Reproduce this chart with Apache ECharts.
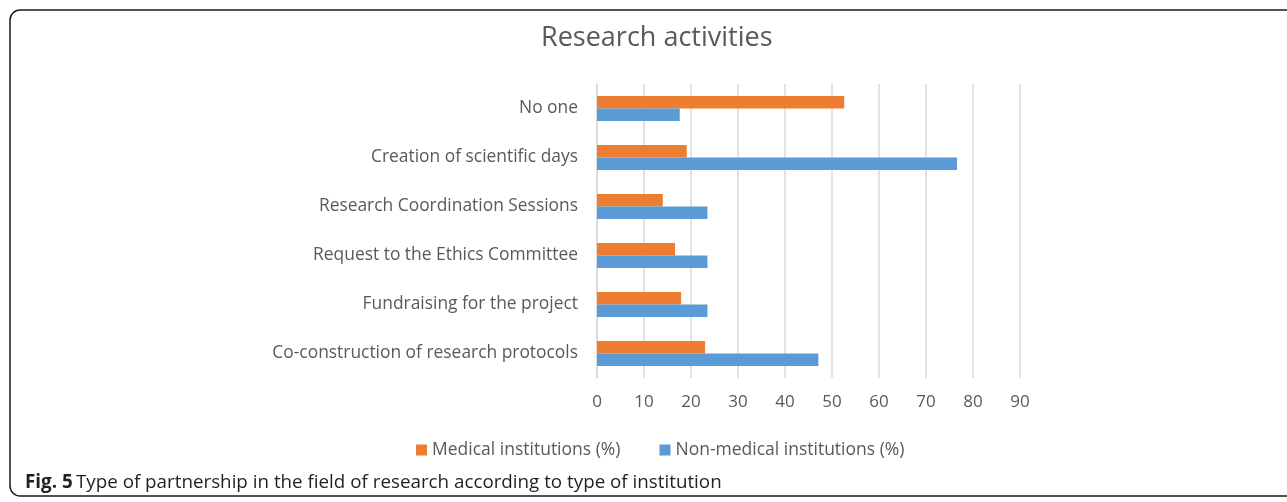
<!DOCTYPE html>
<html>
<head>
<meta charset="utf-8">
<script src="https://cdn.jsdelivr.net/npm/echarts@6/dist/echarts.min.js"></script>
<style>
html,body{margin:0;padding:0;background:#fff;}
#c{width:1287px;height:502px;}
</style>
</head>
<body>
<div id="c"></div>
<script>
var categories = [
  "No one",
  "Creation of scientific days",
  "Research Coordination Sessions",
  "Request to the Ethics Committee",
  "Fundraising for the project",
  "Co-construction of research protocols"
];
var medical = [52.6, 19.1, 14.0, 16.6, 17.9, 23.0];
var nonMedical = [17.6, 76.6, 23.5, 23.5, 23.5, 47.1];
var xTicks = [0, 10, 20, 30, 40, 50, 60, 70, 80, 90];

var chart = echarts.init(document.getElementById('c'), null, {renderer: 'canvas'});
var font = '"Open Sans", "Noto Sans", sans-serif';
chart.setOption({
  animation: false,
  backgroundColor: '#fff',
  title: {
    text: 'Research activities',
    left: 536,
    top: 20,
    textStyle: {fontFamily: font, fontSize: 27, fontWeight: 'normal', color: '#595959'}
  },
  legend: {
    left: 411,
    top: 436,
    icon: 'rect',
    itemWidth: 11,
    itemHeight: 11,
    itemGap: 39,
    textStyle: {fontFamily: font, fontSize: 17.5, color: '#595959'},
    data: ['Medical institutions (%)', 'Non-medical institutions (%)']
  },
  grid: {left: 597, right: 267, top: 84, height: 294, containLabel: false},
  xAxis: {
    type: 'value',
    min: 0,
    max: 90,
    interval: 10,
    axisLine: {show: false},
    axisTick: {show: false},
    splitLine: {lineStyle: {color: '#d9d9d9', width: 1.5}},
    axisLabel: {
      margin: 16,
      fontFamily: font, fontSize: 17, color: '#595959',
      formatter: function (v) { return xTicks.indexOf(v) >= 0 ? String(v) : ''; }
    }
  },
  yAxis: {
    type: 'category',
    inverse: true,
    data: categories,
    axisLine: {show: true, lineStyle: {color: '#d9d9d9', width: 1.5}},
    axisTick: {show: false},
    axisLabel: {margin: 19, fontFamily: font, fontSize: 17.4, color: '#595959'}
  },
  series: [
    {
      name: 'Medical institutions (%)',
      type: 'bar',
      data: medical,
      barWidth: 12.5,
      barGap: '0%',
      itemStyle: {color: '#ED7D31'}
    },
    {
      name: 'Non-medical institutions (%)',
      type: 'bar',
      data: nonMedical,
      barWidth: 12.5,
      barGap: '0%',
      itemStyle: {color: '#5B9BD5'}
    }
  ],
  graphic: [
    {
      type: 'rect',
      silent: true,
      shape: {x: 10, y: 10, width: 1320, height: 486, r: 10},
      style: {fill: 'none', stroke: '#1a1a1a', lineWidth: 1.5}
    },
    {
      type: 'text',
      left: 25,
      top: 473,
      style: {
        text: '{b|Fig. 5} {n|Type of partnership in the field of research according to type of institution}',
        rich: {
          b: {fontFamily: font, fontSize: 18.8, fontWeight: 'bold', fill: '#231f20'},
          n: {fontFamily: font, fontSize: 18.8, fill: '#231f20'}
        }
      }
    }
  ]
});
</script>
</body>
</html>
